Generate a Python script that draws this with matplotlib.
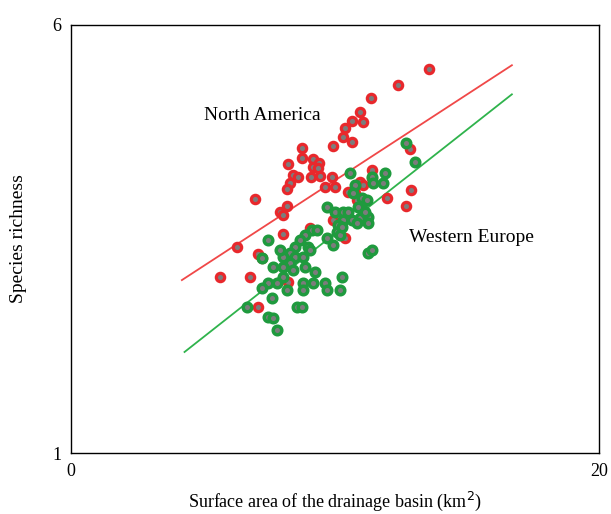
import numpy as np
import matplotlib.pyplot as plt

plt.rcParams['font.family'] = ['Liberation Serif', 'DejaVu Serif']

# North America (red) points: surface area vs species richness
na_x = [13.56, 12.39, 11.36, 10.95, 10.64, 11.06, 10.38, 10.30, 10.64, 9.92,
        8.75, 8.75, 8.22, 9.17, 9.39, 9.17, 9.36, 8.41, 8.60, 9.09,
        9.43, 8.30, 8.18, 9.89, 10.00, 9.62, 11.40, 11.40, 12.84, 12.88,
        12.69, 11.97, 6.97, 10.49, 10.76, 10.83, 10.95, 11.06, 8.18, 7.92,
        8.03, 6.29, 8.03, 7.08, 7.23, 5.64, 6.78, 8.22, 7.08, 9.05,
        9.92, 10.38]
na_y = [5.49, 5.30, 5.15, 4.98, 4.88, 4.87, 4.80, 4.69, 4.63, 4.59,
        4.56, 4.45, 4.38, 4.43, 4.39, 4.34, 4.33, 4.25, 4.22, 4.22,
        4.24, 4.15, 4.08, 4.22, 4.11, 4.11, 4.31, 4.21, 4.55, 4.07,
        3.89, 3.98, 3.97, 4.05, 4.04, 3.96, 4.17, 4.13, 3.89, 3.82,
        3.78, 3.41, 3.56, 3.32, 3.28, 3.06, 3.06, 3.00, 2.71, 3.63,
        3.72, 3.51]

# Western Europe (green) points
we_x = [10.57, 11.40, 11.89, 11.82, 11.44, 10.76, 10.68, 11.02, 11.21, 9.70,
        10.00, 10.30, 10.49, 11.06, 10.95, 11.25, 10.64, 10.30, 10.11, 10.83,
        11.25, 9.13, 8.86, 9.32, 9.70, 9.92, 10.08, 10.19, 10.27, 8.98,
        8.67, 8.48, 8.30, 8.03, 8.48, 8.79, 9.05, 7.92, 8.30, 8.03,
        8.41, 8.86, 7.65, 7.23, 7.46, 9.24, 8.03, 7.80, 7.46, 7.23,
        8.79, 9.17, 9.62, 9.70, 10.19, 10.27, 8.18, 8.79, 7.61, 6.67,
        8.56, 8.75, 7.46, 7.65, 7.80, 11.25, 11.40, 13.03, 12.69, 10.87,
        11.14]
we_y = [4.27, 4.22, 4.27, 4.15, 4.15, 4.13, 4.04, 3.98, 3.96, 3.87,
        3.82, 3.82, 3.82, 3.84, 3.75, 3.76, 3.72, 3.72, 3.66, 3.69,
        3.69, 3.61, 3.55, 3.61, 3.51, 3.43, 3.58, 3.55, 3.64, 3.41,
        3.49, 3.41, 3.34, 3.29, 3.29, 3.29, 3.37, 3.37, 3.22, 3.17,
        3.14, 3.17, 3.17, 3.28, 3.49, 3.11, 3.06, 2.99, 2.99, 2.93,
        2.99, 2.99, 2.99, 2.90, 2.90, 3.06, 2.90, 2.90, 2.81, 2.71,
        2.71, 2.71, 2.59, 2.58, 2.44, 3.34, 3.37, 4.40, 4.62, 3.87,
        3.82]

# Regression line end points
na_line_x = [4.2, 16.7]
na_line_y = [3.02, 5.53]
we_line_x = [4.3, 16.7]
we_line_y = [2.18, 5.19]

red = '#e8282c'
green = '#1f9a3e'
grey = '#7c7c7c'

fig = plt.figure(figsize=(6.11, 5.14), dpi=100)
ax = fig.add_axes([71 / 611, 61 / 514, 528 / 611, 428 / 514])

ax.plot(na_line_x, na_line_y, color='#f04848', linewidth=1.3, zorder=1)
ax.plot(we_line_x, we_line_y, color='#2fb34c', linewidth=1.3, zorder=1)

ax.scatter(na_x, na_y, s=36, facecolor=grey, edgecolor=red, linewidth=2.3, zorder=2)
ax.scatter(we_x, we_y, s=38, facecolor=grey, edgecolor=green, linewidth=2.5, zorder=3)

ax.text(5.04, 4.89, 'North America', fontsize=14)
ax.text(12.8, 3.46, 'Western Europe', fontsize=14)

ax.set_xlim(0, 20)
ax.set_ylim(1, 6)
ax.set_xticks([0, 20])
ax.set_yticks([1, 6])
ax.tick_params(length=0, labelsize=13, pad=7)
for s in ax.spines.values():
    s.set_linewidth(1.0)

ax.set_xlabel('Surface area of the drainage basin (km$^2$)', fontsize=13, labelpad=7)
ax.set_ylabel('Species richness', fontsize=14, labelpad=18)

fig.savefig('out.png', dpi=100)
